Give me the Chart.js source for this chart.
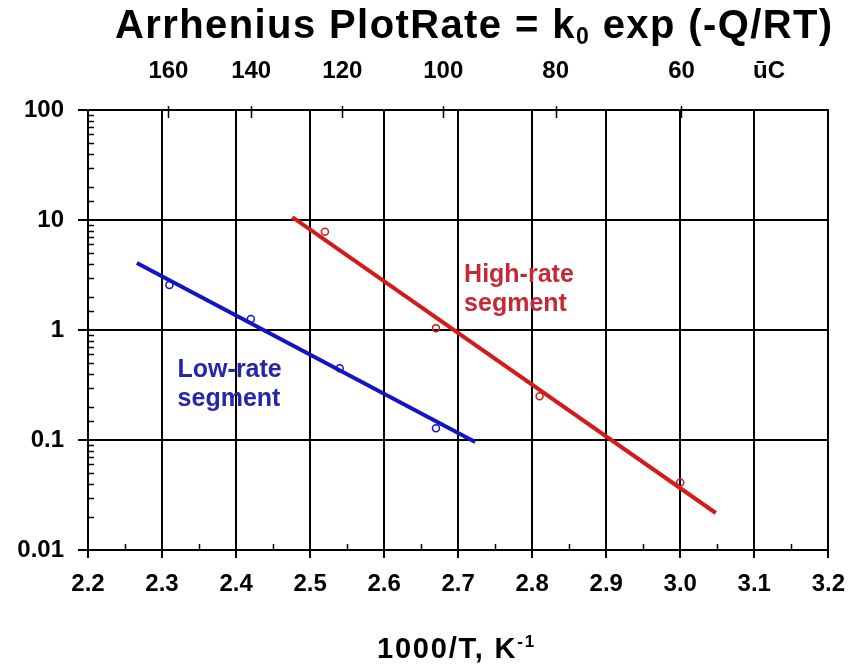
<!DOCTYPE html>
<html lang="en">
<head>
  <meta charset="UTF-8">
  <title>Arrhenius Plot</title>
  <script src="https://cdn.jsdelivr.net/npm/chart.js"></script>
  <style>
    body {
      margin: 0;
      background: #fff;
      font-family: Arial, "Liberation Sans", sans-serif;
    }
    #wrap {
      position: relative;
      width: 857px;
      height: 669px;
    }
    #titulo {
      position: absolute;
      left: 115px;
      top: 4px;
      font-size: 40px;
      line-height: 40px;
      font-weight: bold;
      letter-spacing: 1.4px;
      white-space: nowrap;
      color: #000;
    }
    #titulo .sub {
      font-size: 23px;
      position: relative;
      top: 6px;
    }
    #eixoX {
      position: absolute;
      left: 377px;
      top: 634px;
      font-size: 29px;
      line-height: 28px;
      font-weight: bold;
      letter-spacing: 1.8px;
      white-space: nowrap;
    }
    #eixoX .sup {
      font-size: 17px;
      position: relative;
      top: -11px;
    }
    canvas {
      position: absolute;
      left: 0;
      top: 0;
    }
  </style>
</head>
<body>
  <div id="wrap">
    <canvas id="grafico" width="857" height="669"></canvas>
    <div id="titulo">Arrhenius PlotRate = k<span class="sub">0</span> exp (-Q/RT)</div>
    <div id="eixoX">1000/T, K<span class="sup">-1</span></div>
  </div>

  <script>
    // measured points (1000/T, rate)
    const lowX = [2.31, 2.42, 2.54, 2.67];
    const lowY = [2.56, 1.26, 0.45, 0.128];
    const highX = [2.52, 2.67, 2.81, 3.00];
    const highY = [7.8, 1.04, 0.25, 0.041];

    // fitted lines (end points)
    const lowFitX = [2.266, 2.723];
    const lowFitY = [4.07, 0.096];
    const highFitX = [2.476, 3.048];
    const highFitY = [10.6, 0.0217];

    // top axis: temperature in °C
    const tempC = [160, 140, 120, 100, 80, 60];
    const unitLabel = "ūC";
    const unitPos = 3.12;

    // segment labels
    const notes = [
      { lines: ["Low-rate", "segment"], x: 2.321, y: 0.374, color: "#2626a8" },
      { lines: ["High-rate", "segment"], x: 2.708, y: 2.73, color: "#c42a36" }
    ];

    const azul = "#1414c4";
    const vermelho = "#d21c1c";
    const fonteEixo = { family: "Arial, 'Liberation Sans'", size: 24, weight: "bold" };

    function pares(xs, ys) {
      return xs.map((x, i) => ({ x: x, y: ys[i] }));
    }

    function ehDecada(v) {
      const l = Math.log10(v);
      return Math.abs(l - Math.round(l)) < 1e-6;
    }

    function ehDecimo(v) {
      return Math.abs(v * 10 - Math.round(v * 10)) < 1e-6;
    }

    const topoTicks = tempC.map(t => 1000 / (t + 273.15));

    const extras = {
      id: "extras",
      afterDraw(chart) {
        const ctx = chart.ctx;
        const area = chart.chartArea;
        const sx = chart.scales.x;
        const sy = chart.scales.y;
        ctx.save();
        ctx.strokeStyle = "#000";
        ctx.lineWidth = 1.5;
        ctx.beginPath();
        // minor ticks on log axis
        sy.ticks.forEach(t => {
          if (ehDecada(t.value)) return;
          const py = Math.round(sy.getPixelForValue(t.value)) + 0.5;
          ctx.moveTo(area.left, py);
          ctx.lineTo(area.left + 6, py);
        });
        // minor ticks on bottom axis
        sx.ticks.forEach(t => {
          if (ehDecimo(t.value)) return;
          const px = Math.round(sx.getPixelForValue(t.value)) + 0.5;
          ctx.moveTo(px, area.bottom);
          ctx.lineTo(px, area.bottom - 6);
        });
        // temperature ticks on top axis
        topoTicks.forEach(v => {
          const px = Math.round(sx.getPixelForValue(v)) + 0.5;
          ctx.moveTo(px, area.top - 4);
          ctx.lineTo(px, area.top + 8);
        });
        ctx.stroke();

        // segment labels
        ctx.font = "bold 25px Arial, 'Liberation Sans'";
        ctx.textAlign = "left";
        ctx.textBaseline = "alphabetic";
        notes.forEach(n => {
          ctx.fillStyle = n.color;
          const px = sx.getPixelForValue(n.x);
          const py = sy.getPixelForValue(n.y);
          n.lines.forEach((s, i) => ctx.fillText(s, px, py + i * 29));
        });
        ctx.restore();
      }
    };

    new Chart(document.getElementById("grafico"), {
      type: "scatter",
      data: {
        datasets: [
          {
            label: "Low-rate fit",
            data: pares(lowFitX, lowFitY),
            showLine: true,
            borderColor: azul,
            borderWidth: 4,
            pointRadius: 0
          },
          {
            label: "High-rate fit",
            data: pares(highFitX, highFitY),
            showLine: true,
            borderColor: vermelho,
            borderWidth: 4,
            pointRadius: 0
          },
          {
            label: "Low-rate",
            data: pares(lowX, lowY),
            borderColor: azul,
            backgroundColor: "rgba(0,0,0,0)",
            borderWidth: 1.5,
            pointRadius: 3.5
          },
          {
            label: "High-rate",
            data: pares(highX, highY),
            borderColor: vermelho,
            backgroundColor: "rgba(0,0,0,0)",
            borderWidth: 1.5,
            pointRadius: 3.5
          }
        ]
      },
      options: {
        responsive: false,
        animation: false,
        layout: { padding: { left: 0, right: 27, top: 0, bottom: 0 } },
        plugins: {
          legend: { display: false },
          tooltip: { enabled: false }
        },
        scales: {
          x: {
            type: "linear",
            position: "bottom",
            min: 2.2,
            max: 3.2,
            afterFit(scale) { scale.height = 119; },
            ticks: {
              stepSize: 0.05,
              autoSkip: false,
              maxRotation: 0,
              padding: 12,
              color: "#000",
              font: fonteEixo,
              callback: v => ehDecimo(v) ? v.toFixed(1) : ""
            },
            grid: {
              lineWidth: 2,
              tickLength: 8,
              color: c => (c.tick && ehDecimo(c.tick.value)) ? "#000" : "rgba(0,0,0,0)"
            },
            border: { color: "#000", width: 2 }
          },
          x2: {
            type: "linear",
            position: "top",
            min: 2.2,
            max: 3.2,
            afterFit(scale) { scale.height = 110; },
            afterBuildTicks(scale) {
              scale.ticks = topoTicks.concat([unitPos]).map(v => ({ value: v }));
            },
            ticks: {
              autoSkip: false,
              maxRotation: 0,
              padding: 16,
              color: "#000",
              font: fonteEixo,
              callback: (v, i) => i < tempC.length ? String(tempC[i]) : unitLabel
            },
            grid: { display: false },
            border: { color: "#000", width: 2 }
          },
          y: {
            type: "logarithmic",
            min: 0.01,
            max: 100,
            afterFit(scale) { scale.width = 88; },
            ticks: {
              autoSkip: false,
              padding: 14,
              color: "#000",
              font: fonteEixo,
              callback: v => ehDecada(v) ? String(Number(v.toPrecision(1))) : ""
            },
            grid: {
              lineWidth: 2,
              tickLength: 10,
              color: c => (c.tick && ehDecada(c.tick.value)) ? "#000" : "rgba(0,0,0,0)"
            },
            border: { color: "#000", width: 2 }
          }
        }
      },
      plugins: [extras]
    });
  </script>
</body>
</html>
